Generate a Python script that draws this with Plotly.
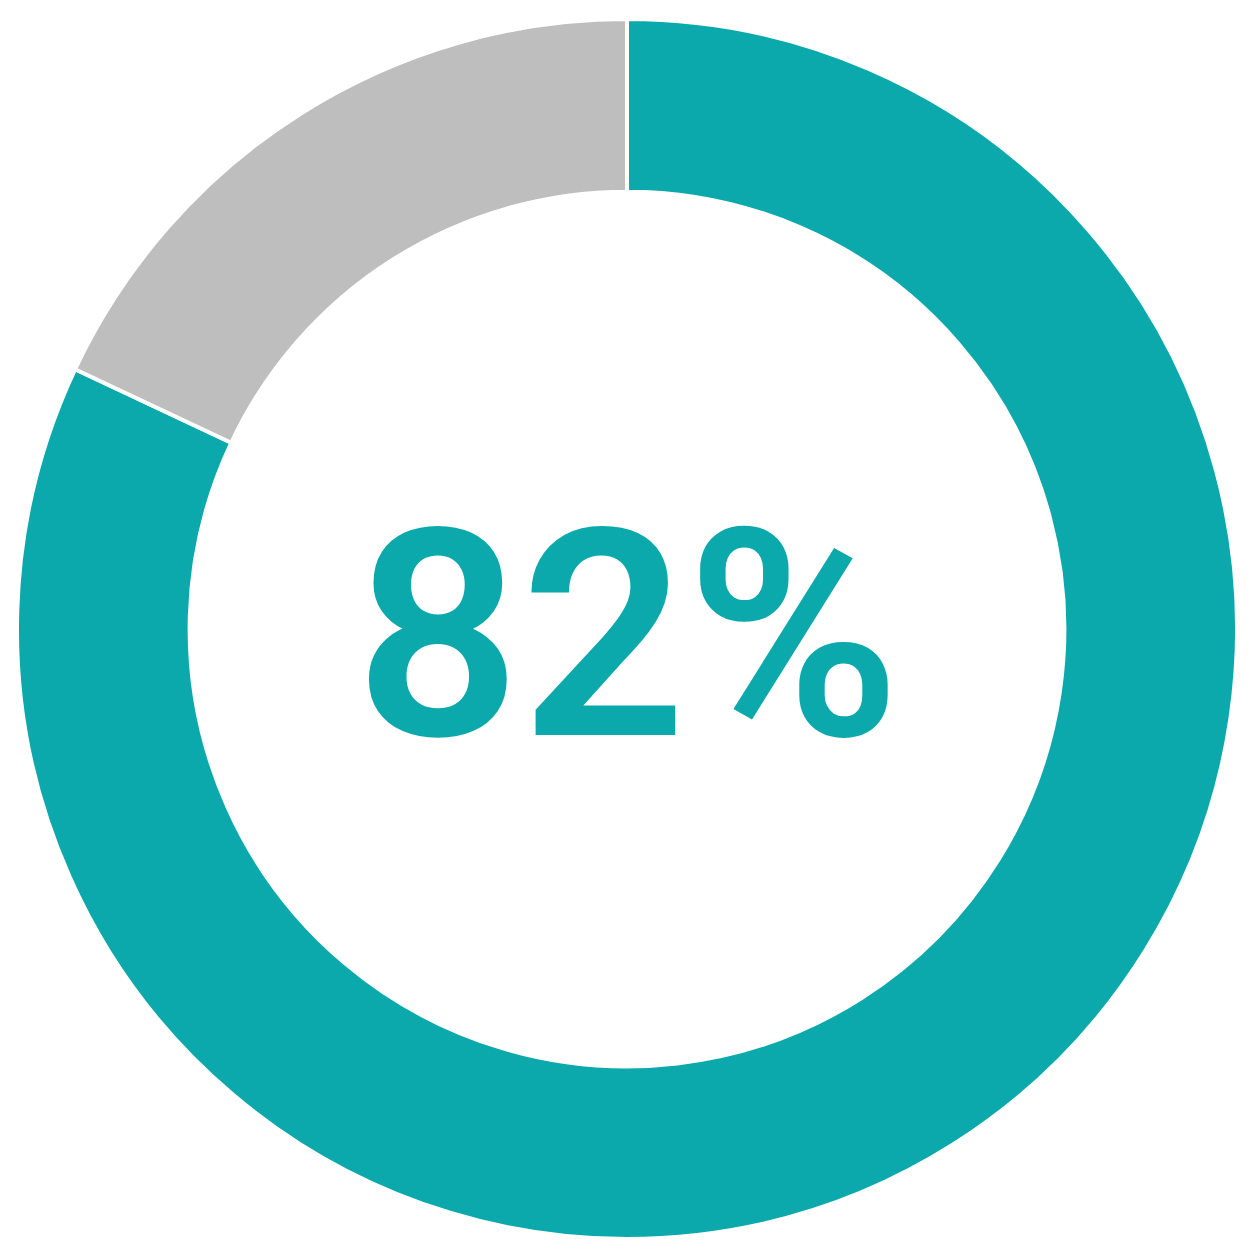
import plotly.graph_objects as go

labels = ["Yes", "Other"]
values = [82, 18]
colors = ["#0CA9AC", "#BEBEBE"]
center_text = "82%"

fig = go.Figure(go.Pie(
    labels=labels,
    values=values,
    hole=0.717,
    sort=False,
    direction="clockwise",
    rotation=0,
    marker=dict(colors=colors, line=dict(color="white", width=4)),
    textinfo="none",
    hoverinfo="label+percent",
    showlegend=False,
))

fig.add_annotation(
    text=center_text,
    x=0.5, y=0.5, xref="paper", yref="paper",
    yshift=-7,
    showarrow=False,
    font=dict(family="Roboto", size=290, weight=600, color=colors[0]),
)

# page body adds ~8px offset, so compensate in margins
fig.update_layout(
    width=1247, height=1246,
    margin=dict(l=9, r=18, t=11, b=15),
    paper_bgcolor="white",
    plot_bgcolor="white",
)

fig.write_html("out.html")
